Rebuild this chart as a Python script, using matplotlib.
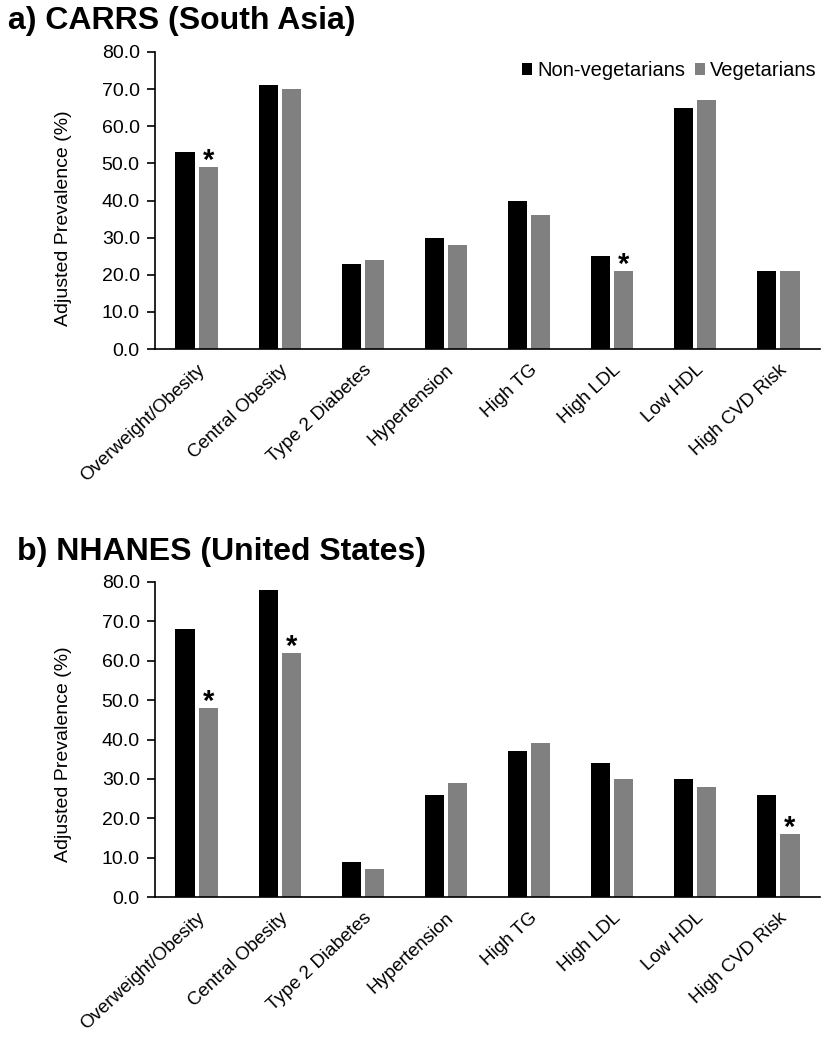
import matplotlib
matplotlib.use("Agg")
import matplotlib.pyplot as plt
import numpy as np

plt.rcParams['font.family'] = ['Liberation Sans', 'DejaVu Sans']

categories = ["Overweight/Obesity", "Central Obesity", "Type 2 Diabetes", "Hypertension",
              "High TG", "High LDL", "Low HDL", "High CVD Risk"]
carrs_nonveg = [53, 71, 23, 30, 40, 25, 65, 21]
carrs_veg = [49, 70, 24, 28, 36, 21, 67, 21]
carrs_sig = [True, False, False, False, False, True, False, False]
nhanes_nonveg = [68, 78, 9, 26, 37, 34, 30, 26]
nhanes_veg = [48, 62, 7, 29, 39, 30, 28, 16]
nhanes_sig = [True, True, False, False, False, False, False, True]
yticks = [0, 10, 20, 30, 40, 50, 60, 70, 80]
series_names = ["Non-vegetarians", "Vegetarians"]
titles = ["a) CARRS (South Asia)", "b) NHANES (United States)"]

BLACK = "#000000"
GRAY = "#808080"

fig = plt.figure(figsize=(8.26, 10.5), dpi=100)
W, H = 826, 1050

def px_axes(x0, y0, x1, y1):
    return fig.add_axes([x0 / W, 1 - y1 / H, (x1 - x0) / W, (y1 - y0) / H])

axA = px_axes(155, 52, 820, 349)
axB = px_axes(155, 582, 820, 897)

width = 0.23
off = 0.139

def draw(ax, nonveg, veg, sig, label_y, legend=False):
    x = np.arange(len(categories))
    ax.bar(x - off, nonveg, width, color=BLACK, label=series_names[0])
    ax.bar(x + off, veg, width, color=GRAY, label=series_names[1])
    for xi, v, s in zip(x, veg, sig):
        if s:
            ax.annotate("*", xy=(xi + off, v), xytext=(0, -6), textcoords="offset points",
                        ha="center", va="bottom", fontsize=21, fontweight="bold")
    ax.set_xlim(-0.5, len(categories) - 0.5)
    ax.set_ylim(0, 80)
    ax.set_yticks(yticks)
    ax.set_yticklabels([f"{t:.1f}" for t in yticks], fontsize=14)
    ax.set_xticks(x)
    ax.set_xticklabels(categories, rotation=43, ha="right", va="top",
                       rotation_mode="anchor", fontsize=13.5)
    ax.tick_params(axis="x", length=0, pad=9)
    ax.tick_params(axis="y", length=5.5, width=1.2, direction="out", pad=5.5)
    for s in ["top", "right"]:
        ax.spines[s].set_visible(False)
    ax.spines["left"].set_linewidth(1.2)
    ax.spines["bottom"].set_linewidth(1.2)
    ax.set_ylabel("Adjusted Prevalence (%)", fontsize=14)
    ax.yaxis.set_label_coords(-0.125, label_y)
    if legend:
        ax.legend(loc="upper right", ncol=2, frameon=False, fontsize=14.5,
                  handlelength=0.5, handleheight=0.5, handletextpad=0.25,
                  columnspacing=0.5, borderaxespad=0.0, borderpad=0.0,
                  bbox_to_anchor=(0.995, 0.97))

draw(axA, carrs_nonveg, carrs_veg, carrs_sig, 0.441, legend=True)
draw(axB, nhanes_nonveg, nhanes_veg, nhanes_sig, 0.452)

fig.text(8 / W, 1 - 29 / H, titles[0], fontsize=23, fontweight="bold", ha="left", va="baseline")
fig.text(17 / W, 1 - 560 / H, titles[1], fontsize=23, fontweight="bold", ha="left", va="baseline")

fig.savefig("out.png", dpi=100)
